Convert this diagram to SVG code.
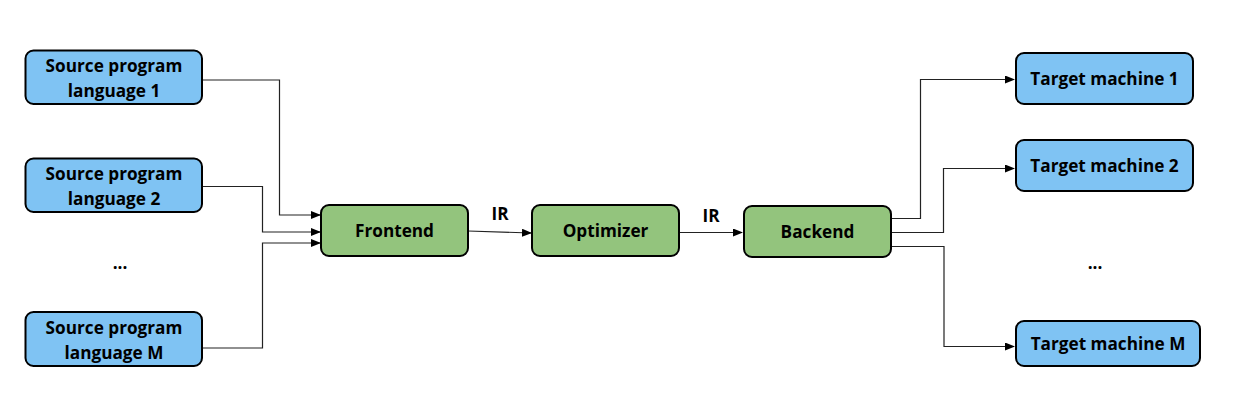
<svg xmlns="http://www.w3.org/2000/svg" width="1251" height="412" viewBox="0 0 1251 412">
<style>
.blue{fill:#7fc3f3;stroke:#000;stroke-width:2}
.green{fill:#93c47d;stroke:#000;stroke-width:2}
text{font-family:"Open Sans","Noto Sans",sans-serif;font-weight:bold;font-size:17.2px;fill:#000;text-anchor:middle}
.c{fill:none;stroke:#222;stroke-width:1.2;marker-end:url(#ah)}
</style>
<defs>
<marker id="ah" markerWidth="10" markerHeight="8" refX="9" refY="4" orient="auto" markerUnits="userSpaceOnUse">
<path d="M0,0 L10,4 L0,8 Z" fill="#000"/>
</marker>
</defs>
<rect width="1251" height="412" fill="#fff"/>
<g id="connectors">
<polyline class="c" points="202,80 279.5,80 279.5,215 320,215"/>
<polyline class="c" points="202,186.5 262.5,186.5 262.5,232 320,232"/>
<polyline class="c" points="202,348 262.5,348 262.5,243 320,243"/>
<polyline class="c" points="468,231 531,233"/>
<polyline class="c" points="679,232.5 742,232.5"/>
<polyline class="c" points="891,218.5 920.5,218.5 920.5,79.5 1014,79.5"/>
<polyline class="c" points="891,232.5 943.5,232.5 943.5,168.5 1014,168.5"/>
<polyline class="c" points="891,246.5 944,246.5 944,346.5 1014,346.5"/>
<text x="500" y="220">IR</text>
<text x="711" y="222">IR</text>
</g>
<g id="src1"><rect class="blue" x="25.5" y="50.5" width="176.5" height="53.5" rx="8"/><text x="114" y="72">Source program</text><text x="114" y="97">language 1</text></g>
<g id="src2"><rect class="blue" x="25.5" y="158.5" width="176.5" height="53.5" rx="8"/><text x="114" y="180">Source program</text><text x="114" y="205">language 2</text></g>
<g id="srcdots"><text x="120" y="269">...</text></g>
<g id="srcM"><rect class="blue" x="25.5" y="312" width="176.5" height="54" rx="8"/><text x="114" y="333.5">Source program</text><text x="114" y="358.5">language M</text></g>
<g id="frontend"><rect class="green" x="321" y="205" width="147" height="51" rx="8"/><text x="394.5" y="237">Frontend</text></g>
<g id="optimizer"><rect class="green" x="532" y="205" width="147" height="51" rx="8"/><text x="605.5" y="237">Optimizer</text></g>
<g id="backend"><rect class="green" x="744" y="206" width="147" height="51" rx="8"/><text x="817.5" y="238">Backend</text></g>
<g id="tgt1"><rect class="blue" x="1016" y="53" width="177" height="51" rx="8"/><text x="1104.5" y="85">Target machine 1</text></g>
<g id="tgt2"><rect class="blue" x="1016" y="140" width="177" height="51" rx="8"/><text x="1104.5" y="172">Target machine 2</text></g>
<g id="tgtdots"><text x="1095" y="269">...</text></g>
<g id="tgtM"><rect class="blue" x="1016" y="321" width="184" height="45" rx="8"/><text x="1108" y="350">Target machine M</text></g>
</svg>
